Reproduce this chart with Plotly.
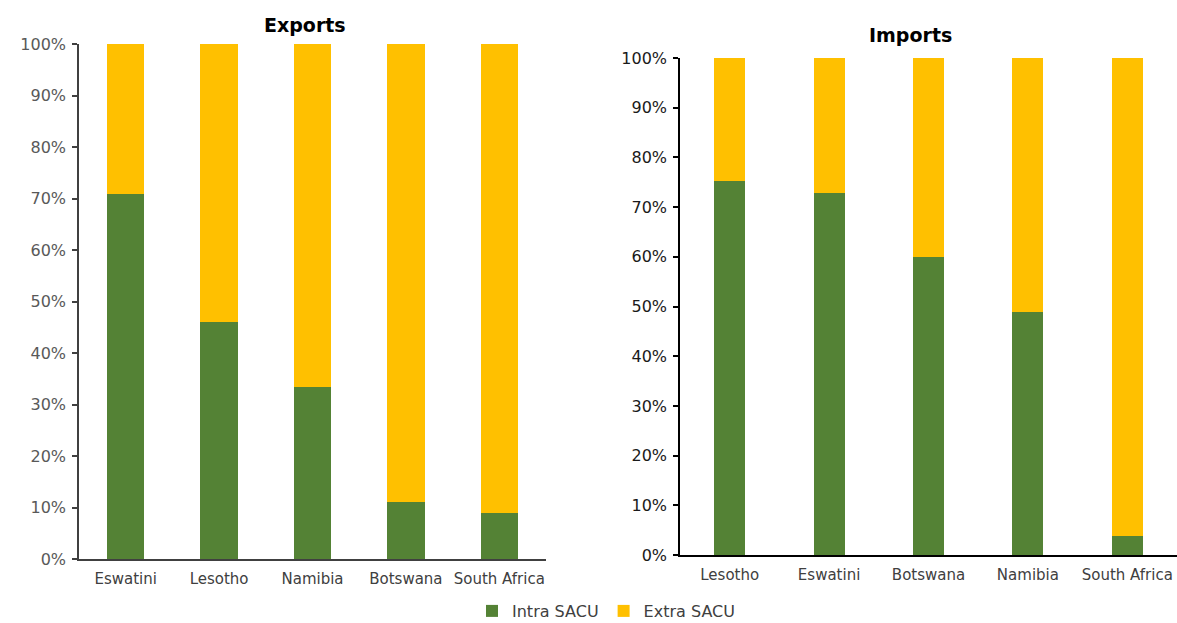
import plotly.graph_objects as go

export_countries = ["Eswatini", "Lesotho", "Namibia", "Botswana", "South Africa"]
export_intra = [0.708, 0.461, 0.334, 0.111, 0.089]
export_extra = [1 - v for v in export_intra]

import_countries = ["Lesotho", "Eswatini", "Botswana", "Namibia", "South Africa"]
import_intra = [0.752, 0.729, 0.600, 0.489, 0.039]
import_extra = [1 - v for v in import_intra]

GREEN = "#548235"
YELLOW = "#FFC000"
FONT = "DejaVu Sans"
W, H = 1177, 623

fig = go.Figure()
fig.add_trace(go.Bar(x=export_countries, y=export_intra, name="Intra SACU", marker_color=GREEN,
                     marker_line_width=0, width=0.4, xaxis="x", yaxis="y", legendgroup="intra"))
fig.add_trace(go.Bar(x=export_countries, y=export_extra, name="Extra SACU", marker_color=YELLOW,
                     marker_line_width=0, width=0.4, xaxis="x", yaxis="y", legendgroup="extra"))
fig.add_trace(go.Bar(x=import_countries, y=import_intra, name="Intra SACU", marker_color=GREEN,
                     marker_line_width=0, width=0.31, xaxis="x2", yaxis="y2", legendgroup="intra",
                     showlegend=False))
fig.add_trace(go.Bar(x=import_countries, y=import_extra, name="Extra SACU", marker_color=YELLOW,
                     marker_line_width=0, width=0.31, xaxis="x2", yaxis="y2", legendgroup="extra",
                     showlegend=False))

common_y = dict(range=[0, 1], dtick=0.1, tickformat=".0%", showgrid=False, zeroline=False,
                showline=True, linewidth=1.5, ticks="outside", ticklen=5, tickwidth=1.5,
                ticklabelstandoff=3, automargin=False, fixedrange=True)
common_x = dict(showgrid=False, zeroline=False, showline=True, linewidth=1.5, ticks="",
                ticklabelstandoff=5, automargin=False, fixedrange=True,
                tickfont=dict(family=FONT, size=15, color="#404040"))

fig.update_layout(
    width=W, height=H,
    margin=dict(l=0, r=0, t=0, b=0, autoexpand=False),
    paper_bgcolor="white", plot_bgcolor="white",
    barmode="stack",
    font=dict(family=FONT),
    xaxis=dict(domain=[79 / W, 546 / W], anchor="y", linecolor="#404040", **common_x),
    yaxis=dict(domain=[1 - 559 / H, 1 - 44 / H], anchor="x", linecolor="#404040", tickcolor="#404040",
               tickfont=dict(family=FONT, size=16, color="#595959"), **common_y),
    xaxis2=dict(domain=[680 / W, 1177 / W], anchor="y2", linecolor="#000000", **common_x),
    yaxis2=dict(domain=[1 - 555 / H, 1 - 58 / H], anchor="x2", linecolor="#000000", tickcolor="#000000",
                tickfont=dict(family=FONT, size=16, color="#1a1a1a"), **common_y),
    legend=dict(orientation="h", x=606 / W, xanchor="center", y=1 - 611 / H, yanchor="middle",
                font=dict(family=FONT, size=16, color="#404040"), itemwidth=30, traceorder="normal"),
    annotations=[
        dict(text="<b>Exports</b>", x=305 / W, y=1 - 25 / H, xref="paper", yref="paper",
             xanchor="center", yanchor="middle",
             showarrow=False, font=dict(family=FONT, size=19, color="#000000")),
        dict(text="<b>Imports</b>", x=910 / W, y=1 - 35 / H, xref="paper", yref="paper",
             xanchor="center", yanchor="middle",
             showarrow=False, font=dict(family=FONT, size=19, color="#000000")),
    ],
)

fig.write_html("out.html")
